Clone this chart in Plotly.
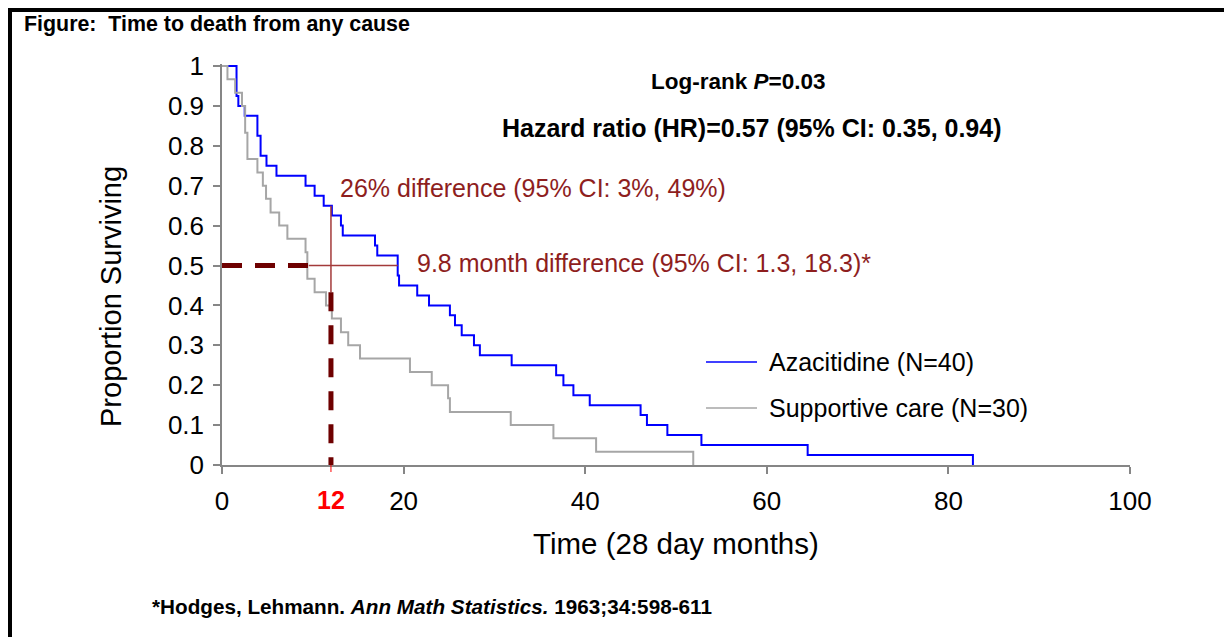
import plotly.graph_objects as go

# Kaplan-Meier survival estimates (time in 28-day months, proportion surviving)
aza_time = [0, 1.6, 1.8, 2.5, 3.9, 4.25, 4.9, 6.0, 9.2, 10.2, 11.2, 12.1, 13.1, 13.3,
            16.85, 17.1, 19.35, 19.5, 21.5, 22.8, 25.1, 25.66, 26.4, 27.75, 28.4,
            31.9, 36.8, 37.6, 38.7, 40.5, 46.1, 46.8, 49.05, 52.8, 64.5, 82.7]
aza_surv = [1.0, 0.925, 0.9, 0.875, 0.825, 0.775, 0.75, 0.725, 0.7, 0.675, 0.65, 0.625,
            0.6, 0.575, 0.55, 0.525, 0.475, 0.45, 0.425, 0.4, 0.375, 0.35, 0.325, 0.3,
            0.275, 0.25, 0.225, 0.2, 0.175, 0.15, 0.125, 0.1, 0.075, 0.05, 0.025, 0.0]

sc_time = [0, 0.6, 1.45, 2.2, 2.55, 2.8, 3.9, 4.5, 4.85, 5.35, 6.3, 7.2, 9.2, 9.4, 10.2,
           11.45, 12.1, 13.1, 13.9, 15.2, 20.7, 23.1, 24.9, 25.1, 31.8, 36.5, 41.2, 51.9]
sc_surv = [1.0, 0.967, 0.933, 0.9, 0.833, 0.767, 0.733, 0.7, 0.667, 0.633, 0.6, 0.567,
           0.533, 0.467, 0.433, 0.4, 0.367, 0.333, 0.3, 0.267, 0.233, 0.2, 0.167, 0.133,
           0.1, 0.067, 0.033, 0.0]

# Reference markers: median survival and 12-month landmark
aza_median = 19.35
median_diff = 9.8
sc_median = aza_median - median_diff
landmark = 12
aza_at_landmark = 0.65
sc_at_landmark = 0.433

series_names = ["Azacitidine (N=40)", "Supportive care (N=30)"]
x_ticks = [0, 20, 40, 60, 80, 100]
y_ticks = [0, 0.1, 0.2, 0.3, 0.4, 0.5, 0.6, 0.7, 0.8, 0.9, 1.0]
y_tick_text = ["0", "0.1", "0.2", "0.3", "0.4", "0.5", "0.6", "0.7", "0.8", "0.9", "1"]

W, H = 1224, 637
L, R, T, B = 222, 94, 64, 172
FONT = "Liberation Sans, Arial, sans-serif"
BLUE = "#0000FF"
GREY = "#A6A6A6"
MAROON = "#6E0000"
THIN = "#A33A3A"
TXT_RED = "#8E1E1E"
AXIS = "#868686"


def px_x(px):
    return (px - L) / (W - L - R)


def px_y(py):
    return (H - B - py) / (H - T - B)


fig = go.Figure()

fig.add_trace(go.Scatter(x=aza_time, y=aza_surv, mode="lines", line_shape="hv",
                         line=dict(color=BLUE, width=2), name=series_names[0],
                         showlegend=False, hoverinfo="skip"))
fig.add_trace(go.Scatter(x=sc_time, y=sc_surv, mode="lines", line_shape="hv",
                         line=dict(color=GREY, width=2), name=series_names[1],
                         showlegend=False, hoverinfo="skip"))

# Thin connectors between the two curves
fig.add_trace(go.Scatter(x=[sc_median, aza_median], y=[0.5, 0.5], mode="lines",
                         line=dict(color=THIN, width=1.5), showlegend=False, hoverinfo="skip"))
fig.add_trace(go.Scatter(x=[landmark, landmark], y=[sc_at_landmark, aza_at_landmark], mode="lines",
                         line=dict(color=THIN, width=1.5), showlegend=False, hoverinfo="skip"))
# Heavy dashed guides to the axes
fig.add_trace(go.Scatter(x=[0, sc_median], y=[0.5, 0.5], mode="lines",
                         line=dict(color=MAROON, width=5, dash="20px,13px"),
                         showlegend=False, hoverinfo="skip"))
fig.add_trace(go.Scatter(x=[landmark, landmark], y=[sc_at_landmark, 0], mode="lines",
                         line=dict(color=MAROON, width=5, dash="19px,14px"),
                         showlegend=False, hoverinfo="skip"))

shapes = [
    # page frame
    dict(type="line", xref="paper", yref="paper", x0=px_x(10), x1=px_x(10),
         y0=px_y(8), y1=px_y(640), line=dict(color="black", width=4)),
    dict(type="line", xref="paper", yref="paper", x0=px_x(8), x1=px_x(1230),
         y0=px_y(10), y1=px_y(10), line=dict(color="black", width=4)),
    # red tick at the landmark month
    dict(type="line", xref="x", yref="paper", x0=landmark, x1=landmark,
         y0=0, y1=px_y(472), line=dict(color="#FF0000", width=1)),
    # legend samples
    dict(type="line", xref="paper", yref="paper", x0=px_x(706), x1=px_x(757),
         y0=px_y(362), y1=px_y(362), line=dict(color=BLUE, width=1.5)),
    dict(type="line", xref="paper", yref="paper", x0=px_x(706), x1=px_x(757),
         y0=px_y(408), y1=px_y(408), line=dict(color=GREY, width=1.5)),
]

annotations = [
    dict(text="<b>Figure:  Time to death from any cause</b>", x=px_x(22), y=px_y(24),
         font=dict(size=21.4, color="black", family=FONT)),
    dict(text="<b>Log-rank <i>P</i>=0.03</b>", x=px_x(738), y=px_y(81), xanchor="center",
         font=dict(size=22.5, color="black", family=FONT)),
    dict(text="<b>Hazard ratio (HR)=0.57 (95% CI: 0.35, 0.94)</b>", x=px_x(500), y=px_y(128),
         font=dict(size=25, color="black", family=FONT)),
    dict(text="26% difference (95% CI: 3%, 49%)", x=px_x(338), y=px_y(188),
         font=dict(size=25, color=TXT_RED, family=FONT)),
    dict(text="9.8 month difference (95% CI: 1.3, 18.3)*", x=px_x(415), y=px_y(263),
         font=dict(size=25, color=TXT_RED, family=FONT)),
    dict(text=series_names[0], x=px_x(767), y=px_y(362),
         font=dict(size=25, color="black", family=FONT)),
    dict(text=series_names[1], x=px_x(767), y=px_y(408),
         font=dict(size=25, color="black", family=FONT)),
    dict(text="Proportion Surviving", x=px_x(111), y=px_y(297), textangle=-90,
         xanchor="center", font=dict(size=29, color="black", family=FONT)),
    dict(text="Time (28 day months)", x=px_x(676), y=px_y(543), xanchor="center",
         font=dict(size=29.5, color="black", family=FONT)),
    dict(text="<b>12</b>", x=px_x(222 + landmark * 9.08), y=px_y(500), xanchor="center",
         font=dict(size=25, color="#FF0000", family=FONT)),
    dict(text="<b>*Hodges, Lehmann. <i>Ann Math Statistics.</i> 1963;34:598-611</b>",
         x=px_x(150), y=px_y(606),
         font=dict(size=20.7, color="black", family=FONT)),
]
for a in annotations:
    a.setdefault("xref", "paper")
    a.setdefault("yref", "paper")
    a.setdefault("xanchor", "left")
    a.setdefault("yanchor", "middle")
    a["showarrow"] = False

fig.update_layout(
    width=W, height=H,
    margin=dict(l=L, r=R, t=T, b=B),
    paper_bgcolor="white", plot_bgcolor="white",
    font=dict(family=FONT, color="black"),
    shapes=shapes, annotations=annotations,
    showlegend=False,
)
fig.update_xaxes(range=[0, 100], tickvals=x_ticks, ticks="outside", ticklen=7,
                 tickcolor=AXIS, tickwidth=1.5, showline=True, linecolor=AXIS, linewidth=1.5,
                 showgrid=False, zeroline=False, tickfont=dict(size=26, color="black"),
                 ticklabelstandoff=5)
fig.update_yaxes(range=[0, 1.005], tickvals=y_ticks, ticktext=y_tick_text, ticks="outside",
                 ticklen=7, tickcolor=AXIS, tickwidth=1.5, showline=True, linecolor=AXIS,
                 linewidth=1.5, showgrid=False, zeroline=False,
                 tickfont=dict(size=26, color="black"), ticklabelstandoff=4)

fig.write_html("out.html")
